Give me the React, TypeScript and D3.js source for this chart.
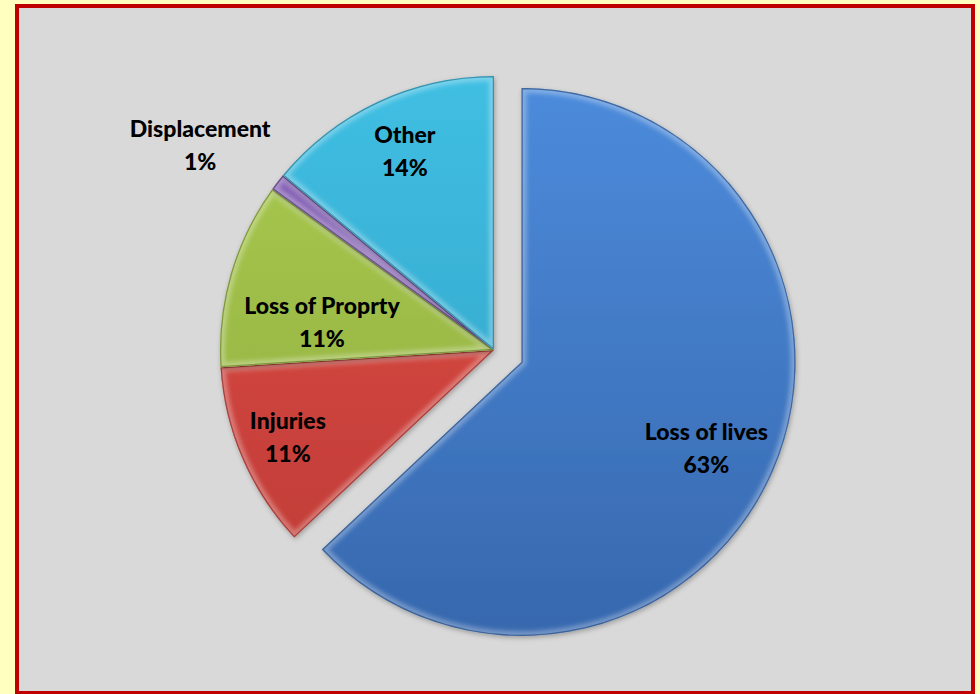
import { useEffect, useRef } from 'react'
import * as d3 from 'd3'

const CATEGORIES = ['Loss of lives', 'Injuries', 'Loss of Proprty', 'Displacement', 'Other']
const VALUES = [63, 11, 11, 1, 14]
const TOP_COLORS = ['#4C8BDB', '#E24E48', '#AACB52', '#8A66BC', '#40BFE3']
const BOTTOM_COLORS = ['#3768AE', '#BD3B35', '#8DAA3A', '#6A4B96', '#2E9EC2']

// label placement: radius as a fraction of the pie radius, plus an angle nudge in degrees
const LABEL_FIT: Record<string, { r: number; da: number }> = {
  'Loss of lives': { r: 0.745, da: 1.7 },
  Injuries: { r: 0.818, da: 0.3 },
  'Loss of Proprty': { r: 0.636, da: -7.1 },
  Displacement: { r: 1.306, da: -3 },
  Other: { r: 0.794, da: 1 },
}

const W = 980
const H = 694

type Slice = { name: string; value: number; i: number }

export default function App() {
  const ref = useRef<SVGSVGElement>(null)

  useEffect(() => {
    if (!ref.current) return
    const svg = d3.select(ref.current)
    svg.selectAll('*').remove()
    svg.attr('width', W).attr('height', H)

    const defs = svg.append('defs')

    // background + frame
    svg.append('rect').attr('width', W).attr('height', H).attr('fill', '#FFFFC0')
    svg.append('rect')
      .attr('x', 17).attr('y', 6)
      .attr('width', 956).attr('height', 687)
      .attr('fill', '#D9D9D9')
      .attr('stroke', '#C00000')
      .attr('stroke-width', 4)

    const cx = 494
    const cy = 350
    const r = 274
    const explode = 30

    const blur = defs.append('filter').attr('id', 'bevel-blur').attr('x', '-10%').attr('y', '-10%').attr('width', '120%').attr('height', '120%')
    blur.append('feGaussianBlur').attr('stdDeviation', 2)

    const shadow = defs.append('filter').attr('id', 'shadow').attr('x', '-10%').attr('y', '-10%').attr('width', '120%').attr('height', '120%')
    shadow.append('feDropShadow').attr('dx', 1).attr('dy', 2).attr('stdDeviation', 2.5).attr('flood-color', '#000').attr('flood-opacity', 0.28)

    const data: Slice[] = CATEGORIES.map((name, i) => ({ name, value: VALUES[i], i }))

    const pie = d3.pie<Slice>()
      .sort(null)
      .value((d) => d.value)
      .startAngle(0)
      .endAngle(2 * Math.PI)

    const arcs = pie(data)
    const arc = d3.arc<d3.PieArcDatum<Slice>>()
      .innerRadius(0)
      .outerRadius(r)

    const g = svg.append('g').attr('transform', `translate(${cx},${cy})`)

    arcs.forEach((a, k) => {
      const mid = (a.startAngle + a.endAngle) / 2
      const off = k === 0 ? explode : 0
      const dx = Math.sin(mid) * off
      const dy = -Math.cos(mid) * off

      const grad = defs.append('linearGradient')
        .attr('id', `grad-${k}`)
        .attr('gradientUnits', 'userSpaceOnUse')
        .attr('x1', 0).attr('y1', -r).attr('x2', 0).attr('y2', r)
      grad.append('stop').attr('offset', '0%').attr('stop-color', TOP_COLORS[a.data.i])
      grad.append('stop').attr('offset', '100%').attr('stop-color', BOTTOM_COLORS[a.data.i])

      const path = arc(a) as string
      defs.append('clipPath').attr('id', `clip-${k}`).append('path').attr('d', path)

      const sg = g.append('g').attr('transform', `translate(${dx},${dy})`)
      sg.append('path')
        .attr('d', path)
        .attr('fill', `url(#grad-${k})`)
        .attr('filter', 'url(#shadow)')

      // bevel: light rim just inside each edge, dark line on the edge itself
      const bevel = sg.append('g').attr('clip-path', `url(#clip-${k})`)
      bevel.append('path')
        .attr('d', path)
        .attr('fill', 'none')
        .attr('stroke', '#ffffff')
        .attr('stroke-opacity', 0.3)
        .attr('stroke-width', 10)
        .attr('filter', 'url(#bevel-blur)')
      bevel.append('path')
        .attr('d', path)
        .attr('fill', 'none')
        .attr('stroke', d3.color(BOTTOM_COLORS[a.data.i])!.darker(0.7).formatHex())
        .attr('stroke-opacity', 0.75)
        .attr('stroke-width', 2.5)
    })

    // labels
    arcs.forEach((a, k) => {
      const fit = LABEL_FIT[a.data.name]
      const mid = (a.startAngle + a.endAngle) / 2
      const ang = mid + (fit.da * Math.PI) / 180
      const off = k === 0 ? explode : 0
      const ox = Math.sin(mid) * off
      const oy = -Math.cos(mid) * off
      const lr = r * fit.r
      const lx = ox + Math.sin(ang) * lr
      const ly = oy - Math.cos(ang) * lr
      const t = g.append('text')
        .attr('x', lx)
        .attr('y', ly)
        .attr('text-anchor', 'middle')
        .attr('font-family', 'Lato, "Open Sans", sans-serif')
        .attr('font-weight', 900)
        .attr('font-size', 23)
        .attr('fill', '#000')
      t.append('tspan').attr('x', lx).attr('dy', -8.5).text(a.data.name)
      t.append('tspan').attr('x', lx).attr('dy', 33).text(`${Math.round(a.value)}%`)
    })

    return () => {
      svg.selectAll('*').remove()
    }
  }, [])

  return (
    <svg ref={ref} style={{ position: 'absolute', left: 0, top: 0, display: 'block' }} />
  )
}
